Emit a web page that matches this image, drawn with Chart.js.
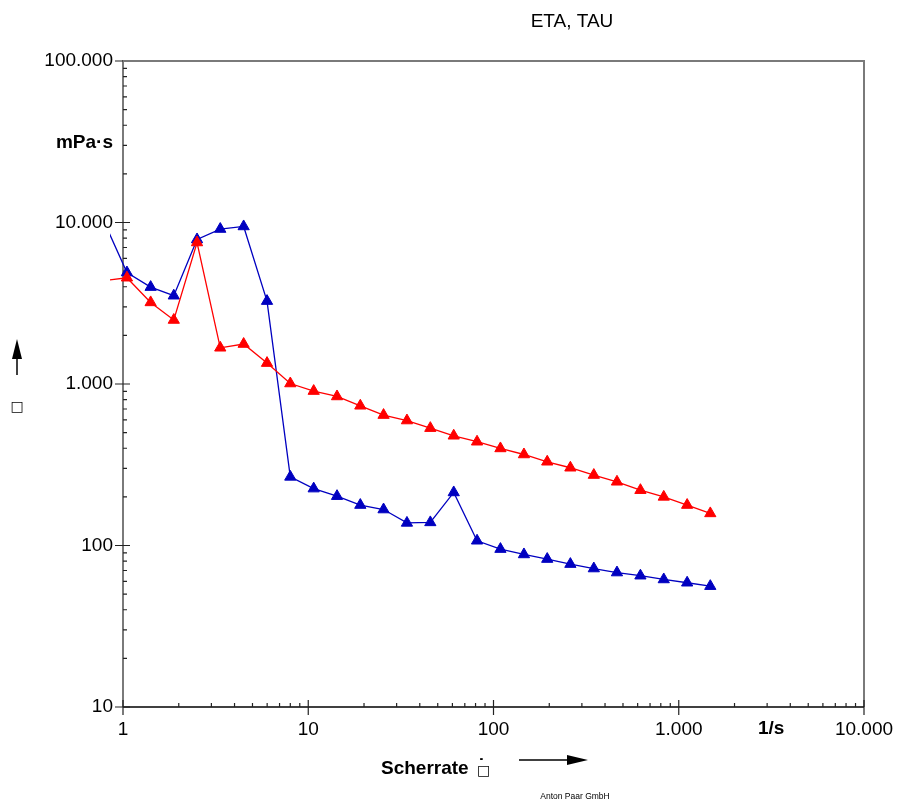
<!DOCTYPE html>
<html lang="de">
<head>
    <meta charset="UTF-8">
    <title>ETA, TAU</title>
    <script src="https://cdn.jsdelivr.net/npm/chart.js"></script>
    <style>
        body { margin: 0; background: #fff; }
        #wrap { width: 899px; height: 803px; position: relative; }
    </style>
</head>
<body>
    <div id="wrap"><canvas id="etaChart"></canvas></div>

    <script>
        // Scherrate (1/s) - first entry lies left of the axis, only its line part shows
        const shearRate = [0.786, 1.05, 1.41, 1.88, 2.51, 3.35, 4.48, 5.99, 8.0, 10.7, 14.3, 19.1, 25.5, 34.1,
            45.6, 61.0, 81.5, 109, 146, 195, 260, 348, 464, 621, 830, 1110, 1480];
        // blue curve (mPa·s)
        const etaBlue = [10260, 4900, 3980, 3520, 7850, 9110, 9450, 3260, 266, 225, 202, 178, 167, 138,
            139, 213, 107, 95, 88, 82.4, 76.7, 72, 68, 65, 61.6, 58.8, 56];
        // red curve (mPa·s)
        const etaRed = [4365, 4550, 3200, 2490, 7520, 1676, 1768, 1347, 1007, 904, 837, 733, 642, 594,
            533, 478, 439, 399, 366, 330, 303, 273, 248, 220, 200, 178, 158];

        const xTicks = [1, 10, 100, 1000, 10000];
        const yTicks = [10, 100, 1000, 10000, 100000];

        const font = 'Liberation Sans, Arial, sans-serif';
        const fmt = v => String(v).replace(/\B(?=(\d{3})+(?!\d))/g, '.');

        function series(vals, color) {
            return {
                data: shearRate.map((s, i) => ({ x: s, y: vals[i] })),
                borderColor: color,
                backgroundColor: color,
                borderWidth: 1.3,
                pointStyle: 'triangle',
                pointRadius: c => c.dataIndex === 0 ? 0 : 6.5,
                pointBorderWidth: 1,
                pointBorderColor: color,
                pointBackgroundColor: color,
                tension: 0,
                clip: { left: 13, top: 8, right: 8, bottom: 8 }
            };
        }

        function line(ctx, x1, y1, x2, y2) {
            ctx.beginPath();
            ctx.moveTo(x1, y1);
            ctx.lineTo(x2, y2);
            ctx.stroke();
        }

        const framePlugin = {
            id: 'frame',
            beforeDatasetsDraw(chart) {
                const { ctx, chartArea: a, scales: { x, y } } = chart;
                ctx.save();
                // grey box
                ctx.strokeStyle = '#7a7a7a';
                ctx.lineWidth = 2;
                ctx.beginPath();
                ctx.moveTo(a.left, a.bottom);
                ctx.lineTo(a.left, a.top);
                ctx.lineTo(a.right, a.top);
                ctx.lineTo(a.right, a.bottom);
                ctx.stroke();
                // black x axis
                ctx.strokeStyle = '#000';
                ctx.lineWidth = 1.5;
                line(ctx, a.left, a.bottom, a.right, a.bottom);

                // ticks
                ctx.lineWidth = 1.2;
                ctx.strokeStyle = '#222';
                ctx.beginPath();
                for (let e = 0; e < 4; e++) {
                    for (let m = 2; m <= 9; m++) {
                        const px = x.getPixelForValue(m * Math.pow(10, e));
                        ctx.moveTo(px, a.bottom);
                        ctx.lineTo(px, a.bottom - 4);
                    }
                }
                for (let e = 1; e < 5; e++) {
                    for (let m = 2; m <= 9; m++) {
                        const py = y.getPixelForValue(m * Math.pow(10, e));
                        ctx.moveTo(a.left, py);
                        ctx.lineTo(a.left + 4, py);
                    }
                }
                xTicks.forEach(v => {
                    const px = x.getPixelForValue(v);
                    ctx.moveTo(px, a.bottom - 7);
                    ctx.lineTo(px, a.bottom + 8);
                });
                yTicks.forEach(v => {
                    const py = y.getPixelForValue(v);
                    ctx.moveTo(a.left - 8, py);
                    ctx.lineTo(a.left + (v === 100000 ? 0 : 7), py);
                });
                ctx.stroke();
                ctx.restore();
            },
            afterDraw(chart) {
                const ctx = chart.ctx;
                ctx.save();
                ctx.fillStyle = '#000';
                ctx.textBaseline = 'middle';

                ctx.font = '19px ' + font;
                ctx.textAlign = 'center';
                ctx.fillText('ETA, TAU', 572, 22);

                ctx.font = 'bold 19px ' + font;
                ctx.textAlign = 'right';
                ctx.fillText('mPa·s', 113, 143);

                ctx.textAlign = 'left';
                ctx.fillText('1/s', 758, 729);
                ctx.fillText('Scherrate', 381, 769);

                // missing glyph boxes as in the original export
                ctx.font = '14px DejaVu Sans, sans-serif';
                ctx.textAlign = 'center';
                ctx.fillText('□', 483.5, 771);
                ctx.fillText('□', 17, 407);
                ctx.font = 'bold 19px ' + font;
                ctx.fillText('˙', 481.5, 767);

                // arrows
                ctx.strokeStyle = '#000';
                ctx.lineWidth = 1.5;
                line(ctx, 519, 760, 570, 760);
                ctx.beginPath();
                ctx.moveTo(588, 760); ctx.lineTo(567, 755); ctx.lineTo(567, 765); ctx.closePath();
                ctx.fill();
                line(ctx, 17, 375, 17, 356);
                ctx.beginPath();
                ctx.moveTo(17, 339); ctx.lineTo(12, 359); ctx.lineTo(22, 359); ctx.closePath();
                ctx.fill();

                ctx.font = '8.5px ' + font;
                ctx.fillText('Anton Paar GmbH', 575, 797);
                ctx.restore();
            }
        };

        const ctx = document.getElementById('etaChart').getContext('2d');
        const etaChart = new Chart(ctx, {
            type: 'line',
            data: {
                datasets: [series(etaRed, '#ff0000'), series(etaBlue, '#0000c0')]
            },
            options: {
                responsive: true,
                maintainAspectRatio: false,
                animation: false,
                layout: { padding: { left: 0, top: 61, right: 35, bottom: 0 } },
                plugins: { legend: { display: false }, tooltip: { enabled: false } },
                scales: {
                    x: {
                        type: 'logarithmic',
                        min: 1,
                        max: 10000,
                        grid: { display: false, drawTicks: false },
                        border: { display: false },
                        afterBuildTicks: s => { s.ticks = xTicks.map(v => ({ value: v })); },
                        afterFit: s => { s.height = 96; s.paddingRight = 0; s.paddingLeft = 0; },
                        ticks: {
                            autoSkip: false,
                            maxRotation: 0,
                            padding: 11,
                            color: '#000',
                            font: { family: font, size: 19 },
                            callback: v => fmt(v)
                        }
                    },
                    y: {
                        type: 'logarithmic',
                        min: 10,
                        max: 100000,
                        grid: { display: false, drawTicks: false },
                        border: { display: false },
                        afterBuildTicks: s => { s.ticks = yTicks.map(v => ({ value: v })); },
                        afterFit: s => { s.width = 123; s.paddingTop = 0; s.paddingBottom = 0; },
                        ticks: {
                            autoSkip: false,
                            padding: 10,
                            color: '#000',
                            font: { family: font, size: 19 },
                            callback: v => fmt(v)
                        }
                    }
                }
            },
            plugins: [framePlugin]
        });
    </script>
</body>
</html>
